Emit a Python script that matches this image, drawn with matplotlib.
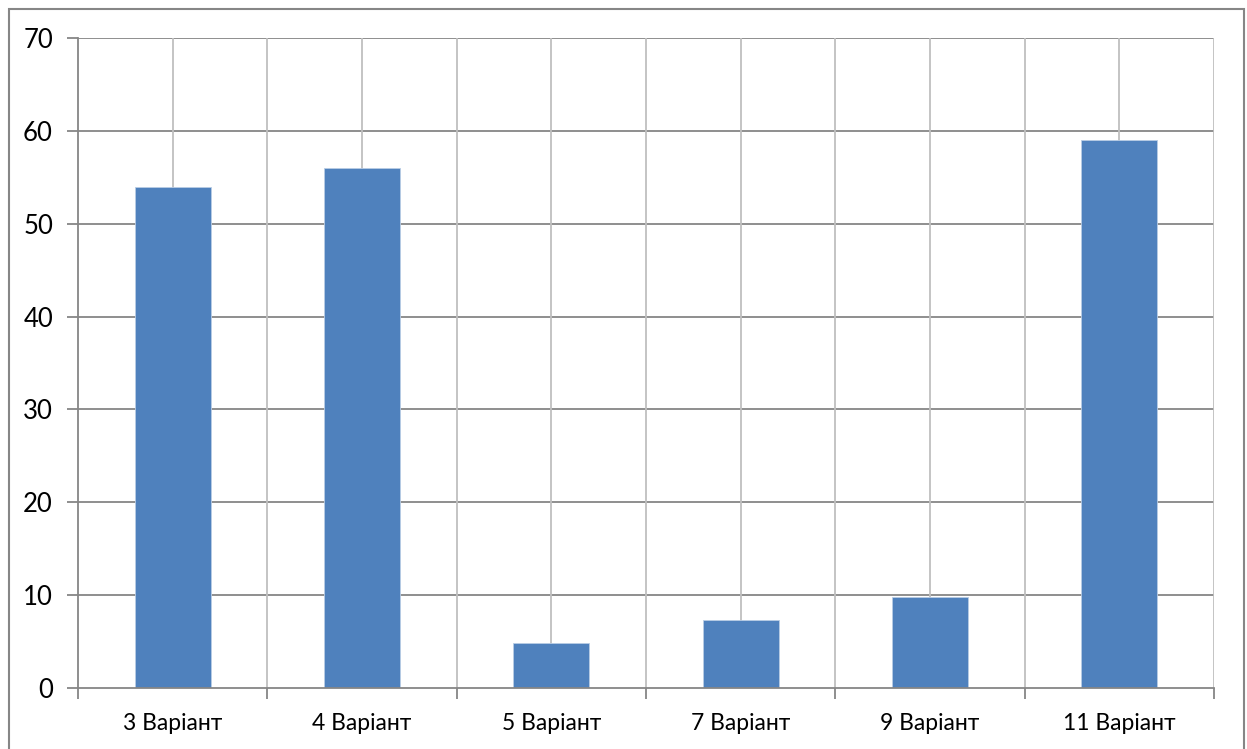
import matplotlib.pyplot as plt
import numpy as np
from matplotlib.patches import Rectangle


categories = ["3 Варіант", "4 Варіант", "5 Варіант", "7 Варіант", "9 Варіант", "11 Варіант"]
values = [54, 56, 4.9, 7.3, 9.8, 59]
y_ticks = [0, 10, 20, 30, 40, 50, 60, 70]

W, H = 1247, 749
BAR_COLOR = "#4F81BD"
AXIS_GRAY = "#868686"
GRID_LIGHT = "#BFBFBF"

plt.rcParams["font.family"] = ["Lato", "DejaVu Sans"]

fig = plt.figure(figsize=(W / 100, H / 100), dpi=100)
ax = fig.add_axes([78 / W, 1 - 688 / H, (1214 - 78) / W, (688 - 38) / H])

x = np.arange(len(categories))
ax.bar(x, values, width=0.4, color=BAR_COLOR, edgecolor="#B9CDE5", linewidth=0.6, zorder=3)

ax.set_xlim(-0.5, len(categories) - 0.5)
ax.set_ylim(0, 70)

# horizontal gridlines (darker), vertical gridlines at boundaries and centres (lighter)
ax.set_yticks(y_ticks)
ax.set_yticklabels([str(t) for t in y_ticks], fontsize=18.5)
for t in y_ticks[1:]:
    ax.axhline(t, color=AXIS_GRAY, linewidth=1.3, zorder=1)
for b in np.arange(0, len(categories), 0.5):
    ax.axvline(b, color=GRID_LIGHT, linewidth=1.3, zorder=1)

ax.set_xticks(x)
ax.set_xticklabels(categories, fontsize=16.5)
ax.set_xticks(np.arange(-0.5, len(categories), 1.0), minor=True)
ax.tick_params(axis="x", which="major", length=0, pad=18)
ax.tick_params(axis="x", which="minor", length=8, width=1.3, color=AXIS_GRAY, direction="out")
ax.tick_params(axis="y", length=8, width=1.3, color=AXIS_GRAY, direction="out", pad=10)

for side in ["top", "right"]:
    ax.spines[side].set_visible(False)
for side in ["left", "bottom"]:
    ax.spines[side].set_color(AXIS_GRAY)
    ax.spines[side].set_linewidth(1.3)
    ax.spines[side].set_zorder(4)

# outer chart border
fig.patches.append(Rectangle((9 / W, -0.1), (1244 - 9) / W, 1.1 - 9 / H,
                             transform=fig.transFigure, fill=False,
                             edgecolor=AXIS_GRAY, linewidth=1.5))

fig.savefig("out.png", dpi=100)
